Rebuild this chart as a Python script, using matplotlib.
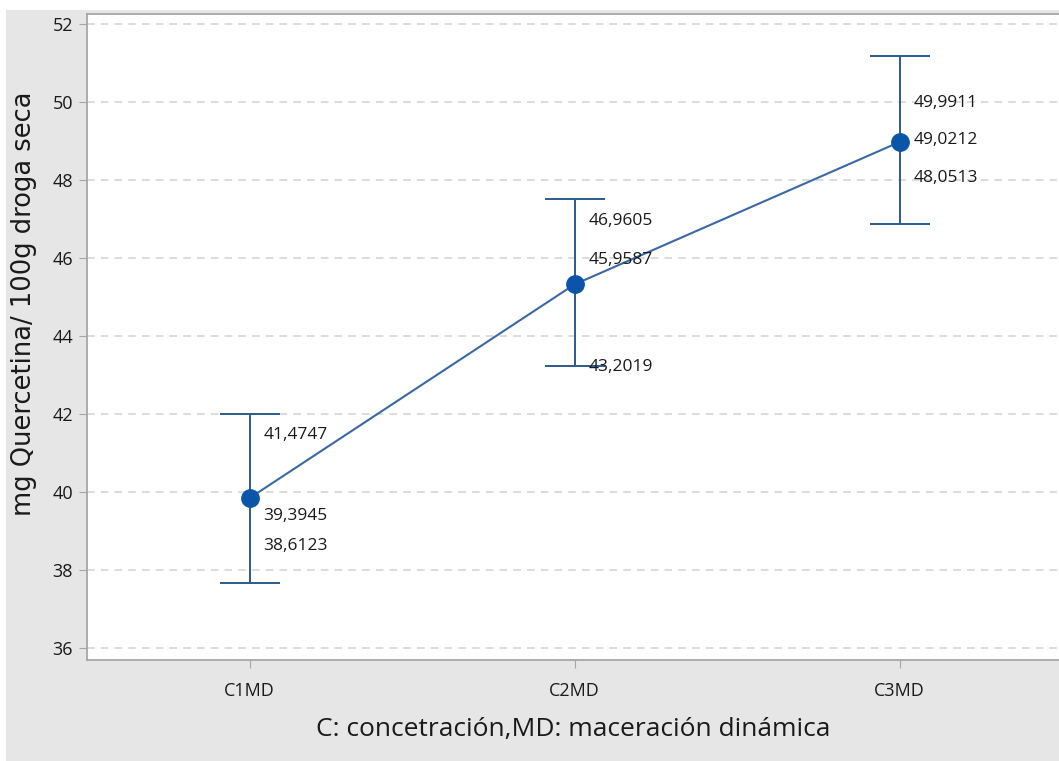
import matplotlib
matplotlib.use("Agg")
import matplotlib.pyplot as plt
from matplotlib.patches import Rectangle

categories = ["C1MD", "C2MD", "C3MD"]
means = [39.85, 45.33, 48.98]
err_low = [37.68, 43.23, 46.88]
err_high = [42.0, 47.52, 51.18]
label_top = [41.4747, 46.9605, 49.9911]
label_mid = [39.3945, 45.9587, 49.0212]
label_bot = [38.6123, 43.2019, 48.0513]
yticks = [36, 38, 40, 42, 44, 46, 48, 50, 52]

BG = "#e6e6e6"
ERR = "#2c5b8e"
LINE = "#3a68a4"
MARK = "#0a55a8"
SPINE = "#a6a6a6"
INK = "#1a1a1a"
SANS = ["Open Sans", "DejaVu Sans"]

fig = plt.figure(figsize=(10.59, 7.61), dpi=100, facecolor="white")
fig.patches.append(Rectangle((6 / 1059, 0), 1, 1 - 10 / 761, transform=fig.transFigure,
                             facecolor=BG, edgecolor="none", zorder=-10))
ax = fig.add_axes([87 / 1059, 1 - 660 / 761, 1 - 87 / 1059, (660 - 14) / 761])
ax.set_facecolor("white")

x = [1, 2, 3]
yerr = [[m - lo for m, lo in zip(means, err_low)],
        [hi - m for m, hi in zip(means, err_high)]]
ax.errorbar(x, means, yerr=yerr, fmt="none", ecolor=ERR, elinewidth=1.4,
            capsize=21.5, capthick=1.4, zorder=3)
ax.plot(x, means, color=LINE, lw=1.5, zorder=4)
ax.plot(x, means, "o", color=MARK, ms=12.5, zorder=5)

for xi, vals in zip(x, zip(label_top, label_mid, label_bot)):
    for v in vals:
        ax.text(xi + 0.042, v, f"{v:.4f}".replace(".", ","), ha="left", va="center",
                fontsize=12.5, color=INK, family=SANS, zorder=6)

ax.set_xlim(0.5, 3.49)
ax.set_ylim(35.7, 52.26)
ax.set_yticks(yticks)
ax.set_yticklabels([str(t) for t in yticks], fontsize=13, family=SANS, color=INK)
ax.set_xticks(x)
ax.set_xticklabels(categories, fontsize=13, family=SANS, color=INK)
ax.tick_params(axis="both", color=SPINE, length=6, width=0.8)
ax.tick_params(axis="x", pad=10)
ax.tick_params(axis="y", pad=4)
ax.grid(axis="y", color="#d2d2d2", linestyle=(0, (5, 4)), lw=1.1, zorder=0)

for sp in ("left", "top", "bottom"):
    ax.spines[sp].set_color(SPINE)
    ax.spines[sp].set_linewidth(1.3)
ax.spines["right"].set_visible(False)

ax.set_ylabel("mg Quercetina/ 100g droga seca", fontsize=18.5, color=INK,
              family=["DejaVu Sans"])
ax.yaxis.set_label_coords(-0.051, 0.551)
ax.set_xlabel("C: concetración,MD: maceración dinámica", fontsize=19, color=INK,
              family=SANS)
ax.xaxis.set_label_coords(0.5, -0.088)

fig.savefig("out.png", dpi=100, facecolor=fig.get_facecolor())
